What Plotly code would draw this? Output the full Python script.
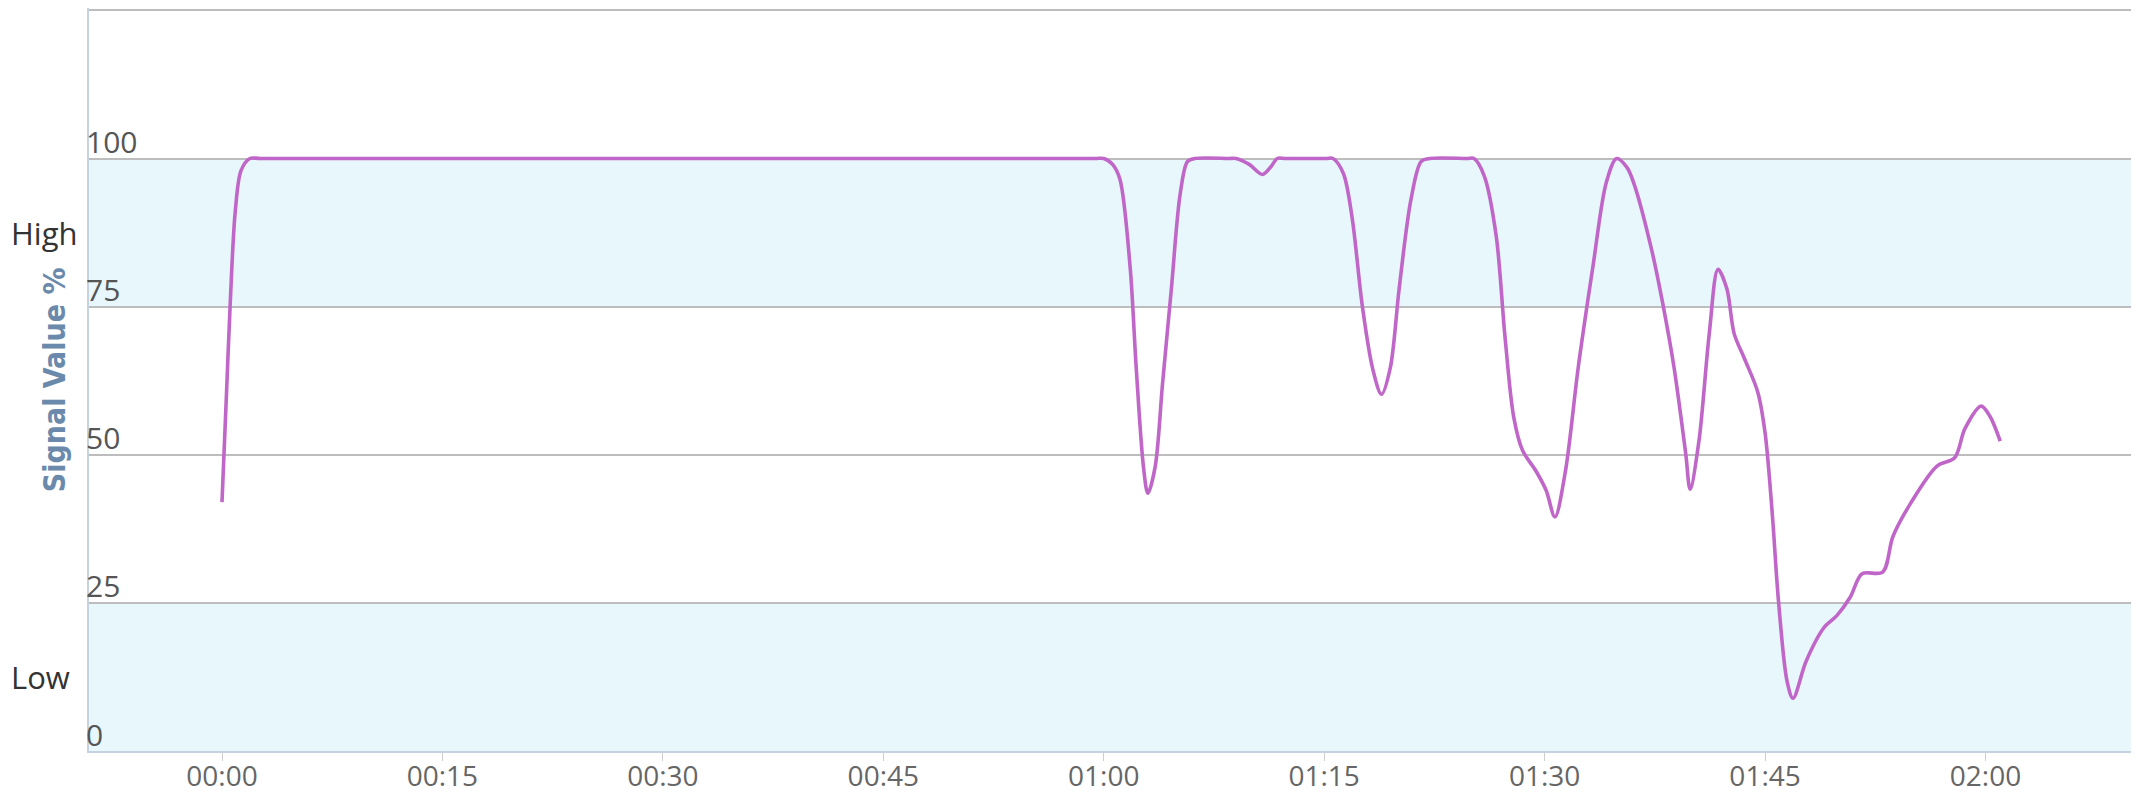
"""Signal value % over time, with High / Low bands."""
import plotly.graph_objects as go

# Palette
BAND = "#e8f7fc"
GRID = "#bdbdbd"
AXIS = "#c5d3e0"
LINE = "#c066c8"
TICK = "#555555"
TITLE = "#6b8aab"

# Data (minutes since 00:00, signal %)
minutes = [0, 0.3, 0.55, 0.9, 1.3, 1.9, 2.6, 10, 20, 30, 40, 50, 59.4, 60.0, 60.6, 61.1,
           61.8, 62.2, 62.7, 63.0, 63.5, 64.0, 64.6, 65.2, 65.7, 66.2, 68.5, 69.0, 69.9,
           70.8, 71.4, 71.8, 72.4, 75.1, 75.6, 76.3, 76.9, 77.6, 78.3, 78.9, 79.5, 80.1,
           80.9, 81.6, 82.2, 84.7, 85.2, 85.9, 86.7, 87.3, 87.9, 88.5, 89.4, 90.1, 90.7,
           91.4, 92.3, 93.3, 94.2, 94.9, 95.6, 96.1, 97.3, 98.0, 98.8, 99.6, 99.9, 100.5,
           101.2, 101.8, 102.4, 102.9, 103.6, 104.5, 105.0, 105.5, 105.9, 106.5, 106.9,
           107.8, 109.0, 109.9, 110.8, 111.6, 113.0, 113.7, 114.9, 116.7, 117.9, 118.6,
           119.7, 120.3, 121.0]
signal = [42, 60, 75, 91, 98, 100, 100, 100, 100, 100, 100, 100, 100, 100, 99, 96.5,
          81.5, 65, 48, 43.5, 48, 62, 78, 94, 99.5, 100, 100, 100, 99,
          97.3, 98.7, 100, 100, 100, 100, 97.5, 90, 75, 64.5, 60.2, 64.7, 78,
          93, 99.5, 100, 100, 100, 97, 87, 70, 56.3, 50.7, 47.3, 44, 39.5,
          47, 65, 82, 96, 100, 98.5, 95.6, 84.4, 76, 64.8, 50.2, 44.2, 52.3,
          70.4, 81.3, 78, 70.4, 66.2, 60.6, 53.7, 39.7, 25.7, 11.7, 8.9,
          15.2, 20.8, 22.9, 26, 29.9, 30.2, 36.2, 41.8, 48.1, 49.5, 54.4,
          58.2, 56.5, 52.3]

x_ticks = [0, 15, 30, 45, 60, 75, 90, 105, 120]
x_labels = ["00:00", "00:15", "00:30", "00:45", "01:00", "01:15", "01:30", "01:45", "02:00"]
y_ticks = [0, 25, 50, 75, 100, 125]
y_labels = ["0", "25", "50", "75", "100", ""]
bands = [(0, 25, "Low"), (75, 100, "High")]

fig = go.Figure()

for lo, hi, name in bands:
    fig.add_shape(type="rect", xref="paper", x0=0, x1=1, y0=lo, y1=hi,
                  fillcolor=BAND, line=dict(width=0), layer="below")
    fig.add_annotation(text=name, xref="paper", x=-0.039, xanchor="left",
                       y=(lo + hi) / 2, showarrow=False,
                       font=dict(family="Open Sans", size=31, color="#333333"))

fig.add_trace(go.Scatter(x=minutes, y=signal, mode="lines",
                         line=dict(color=LINE, width=3.6, shape="spline", smoothing=0.9),
                         hoverinfo="skip", showlegend=False))

fig.add_annotation(text="Signal Value %", xref="paper", yref="paper", x=-0.0168, y=0.5,
                   xanchor="center", yanchor="middle", textangle=-90, showarrow=False,
                   font=dict(family="DejaVu Sans Condensed", size=30, color=TITLE, weight="bold"))

# page body keeps its default 8px margin, so the figure is sized to fit inside it
fig.update_layout(
    width=2125, height=779,
    paper_bgcolor="white", plot_bgcolor="white",
    margin=dict(l=81, r=2, t=0, b=36),
    font=dict(family="Open Sans", size=28, color=TICK),
    xaxis=dict(range=[-9.05, 129.9], tickvals=x_ticks, ticktext=x_labels,
               showgrid=False, zeroline=False, showline=True, linecolor=AXIS, linewidth=2,
               ticks="outside", ticklen=8, tickcolor="#cccccc", tickwidth=1,
               ticklabelstandoff=-9,
               tickfont=dict(size=28, color="#666666"), automargin=False),
    yaxis=dict(range=[0, 125.4], tickvals=y_ticks, ticktext=y_labels,
               showgrid=True, gridcolor=GRID, gridwidth=1.5, zeroline=False,
               showline=True, linecolor=AXIS, linewidth=2,
               ticklabelposition="inside", ticklabelshift=-16, ticklabeloverflow="allow",
               tickfont=dict(size=30, color=TICK), automargin=False),
)

fig.write_html("out.html")
